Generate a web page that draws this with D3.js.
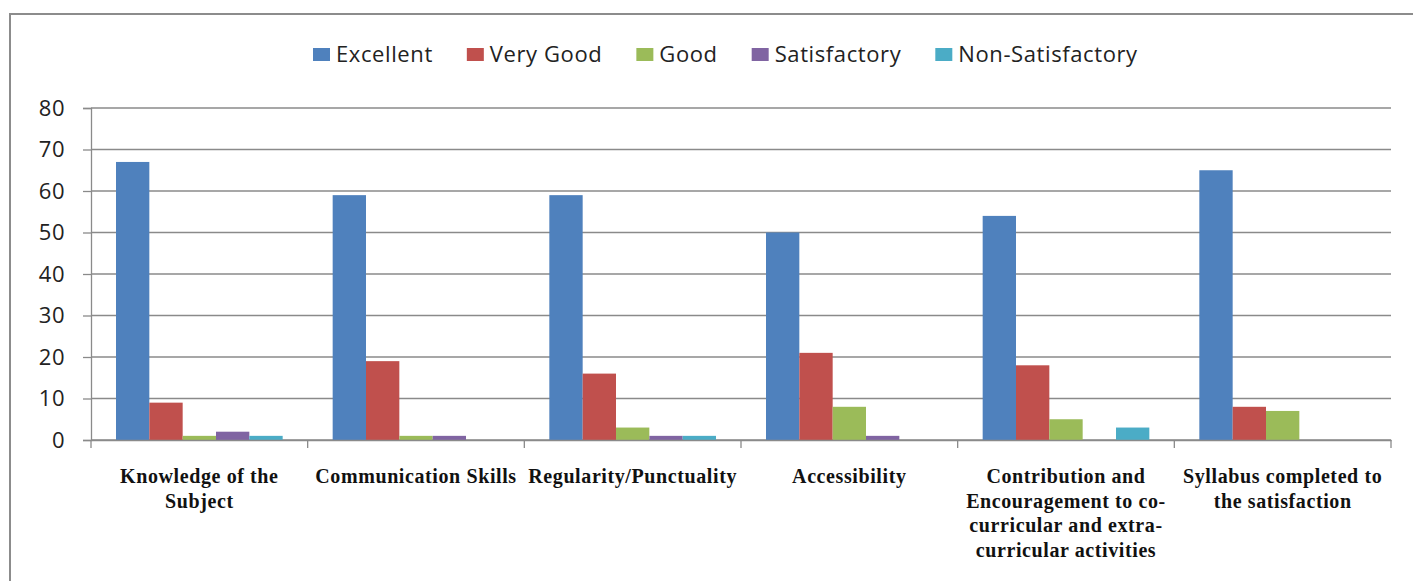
<!DOCTYPE html>
<html>
<head>
<meta charset="utf-8">
<script src="https://cdn.jsdelivr.net/npm/d3@7"></script>
<style>
html,body{margin:0;padding:0;background:#fff;}
svg{display:block;}
</style>
</head>
<body>
<svg id="chart" width="1413" height="581"></svg>
<script>
const categories = [
  "Knowledge of the Subject",
  "Communication Skills",
  "Regularity/Punctuality",
  "Accessibility",
  "Contribution and Encouragement to co-curricular and extra-curricular activities",
  "Syllabus completed to the satisfaction"
];
const categoryLines = [
  ["Knowledge of the", "Subject"],
  ["Communication Skills"],
  ["Regularity/Punctuality"],
  ["Accessibility"],
  ["Contribution and", "Encouragement to co-", "curricular and extra-", "curricular activities"],
  ["Syllabus completed to", "the satisfaction"]
];
const seriesNames = ["Excellent", "Very Good", "Good", "Satisfactory", "Non-Satisfactory"];
const excellent       = [67, 59, 59, 50, 54, 65];
const veryGood        = [9, 19, 16, 21, 18, 8];
const good            = [1, 1, 3, 8, 5, 7];
const satisfactory    = [2, 1, 1, 1, 0, 0];
const nonSatisfactory = [1, 0, 1, 0, 3, 0];
const yTicks = [0, 10, 20, 30, 40, 50, 60, 70, 80];
const colors = ["#4F81BD", "#C0504D", "#9BBB59", "#8064A2", "#4BACC6"];

const seriesValues = [excellent, veryGood, good, satisfactory, nonSatisfactory];

const svg = d3.select("#chart");
const plotLeft = 91, plotRight = 1391, plotTop = 108, plotBottom = 440;

// outer frame
svg.append("rect").attr("x", 10).attr("y", 14).attr("width", 1420).attr("height", 600)
  .attr("fill", "none").attr("stroke", "#8c8c8c").attr("stroke-width", 2);

const x0 = d3.scaleBand().domain(categories).range([plotLeft, plotRight]).paddingInner(0).paddingOuter(0);
const x1 = d3.scaleBand().domain(seriesNames).range([0, x0.bandwidth()]).paddingInner(0).paddingOuter(0.75);
const y = d3.scaleLinear().domain([0, 80]).range([plotBottom, plotTop]);

// gridlines
svg.append("g").selectAll("line").data(yTicks).join("line")
  .attr("x1", plotLeft).attr("x2", plotRight)
  .attr("y1", d => y(d)).attr("y2", d => y(d))
  .attr("stroke", "#8a8a8a").attr("stroke-width", 1.3);

// y axis
const yAxis = svg.append("g").attr("transform", `translate(${plotLeft},0)`)
  .call(d3.axisLeft(y).tickValues(yTicks).tickSize(8).tickPadding(18));
yAxis.select(".domain").attr("stroke", "#8a8a8a").attr("stroke-width", 1.3);
yAxis.selectAll(".tick line").attr("stroke", "#8a8a8a").attr("stroke-width", 1.3);
yAxis.selectAll("text").attr("font-family", "'Open Sans', sans-serif").attr("font-size", 22)
  .attr("letter-spacing", 0.5).attr("fill", "#222");

// bars
const groups = svg.append("g").selectAll("g").data(categories).join("g")
  .attr("transform", d => `translate(${x0(d)},0)`);
groups.selectAll("rect").data((c, i) => seriesNames.map((s, j) => ({s, v: seriesValues[j][i], j})))
  .join("rect")
  .attr("x", d => x1(d.s))
  .attr("width", x1.bandwidth())
  .attr("y", d => y(d.v))
  .attr("height", d => y(0) - y(d.v))
  .attr("fill", d => colors[d.j]);

// x axis
const xAxis = svg.append("g").attr("transform", `translate(0,${plotBottom})`)
  .call(d3.axisBottom(x0).tickSize(0).tickFormat(""));
xAxis.select(".domain").attr("stroke", "#8a8a8a").attr("stroke-width", 1.3);
const boundaries = categories.map(c => x0(c)).concat([plotRight]);
xAxis.selectAll(".bt").data(boundaries).join("line").attr("class", "bt")
  .attr("x1", d => d).attr("x2", d => d).attr("y1", 0).attr("y2", 8)
  .attr("stroke", "#8a8a8a").attr("stroke-width", 1.3);

// category labels
const lab = svg.append("g").selectAll("text").data(categories).join("text")
  .attr("x", d => x0(d) + x0.bandwidth() / 2)
  .attr("y", 483)
  .attr("text-anchor", "middle")
  .attr("font-family", "'Liberation Serif', serif")
  .attr("font-weight", "bold")
  .attr("font-size", 20)
  .attr("letter-spacing", 0.6)
  .attr("fill", "#111");
lab.each(function(d, i) {
  const t = d3.select(this);
  categoryLines[i].forEach((ln, k) => {
    t.append("tspan").attr("x", x0(d) + x0.bandwidth() / 2).attr("dy", k === 0 ? 0 : 24.5).text(ln);
  });
});

// legend (laid out sequentially from measured text widths)
const legend = svg.append("g");
let lx = 313;
seriesNames.forEach((name, i) => {
  legend.append("rect").attr("x", lx).attr("y", 48).attr("width", 17).attr("height", 13)
    .attr("fill", colors[i]);
  const t = legend.append("text").attr("x", lx + 23).attr("y", 62)
    .attr("font-family", "'Open Sans', sans-serif").attr("font-size", 22)
    .attr("letter-spacing", 0.6).attr("fill", "#222").text(name);
  lx = lx + 23 + t.node().getComputedTextLength() + 34;
});
</script>
</body>
</html>
